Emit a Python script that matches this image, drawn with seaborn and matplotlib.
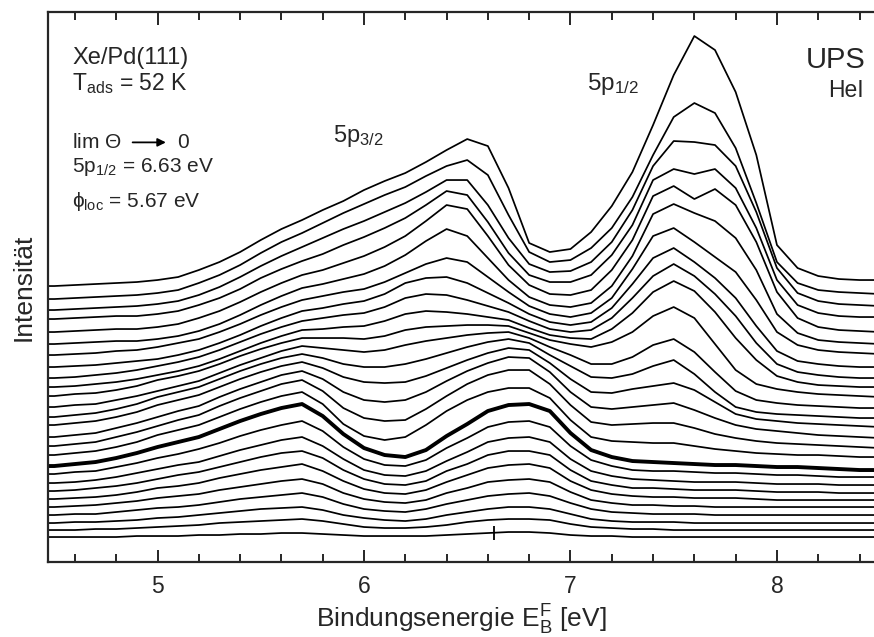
import numpy as np
import matplotlib
matplotlib.use('Agg')
import matplotlib.pyplot as plt
from matplotlib.ticker import MultipleLocator
import seaborn as sns

# binding energy grid (eV)
energy = [4.4, 4.5, 4.6, 4.7, 4.8, 4.9, 5.0, 5.1, 5.2, 5.3, 5.4, 5.5, 5.6, 5.7,
          5.8, 5.9, 6.0, 6.1, 6.2, 6.3, 6.4, 6.5, 6.6, 6.7, 6.8, 6.9, 7.0, 7.1,
          7.2, 7.3, 7.4, 7.5, 7.6, 7.7, 7.8, 7.9, 8.0, 8.1, 8.2, 8.3, 8.4, 8.5]

# spectra (arb. units, waterfall offset included), bottom to top
spec_00 = [25, 25, 25, 25, 25, 26, 26, 26, 27, 27, 28, 28, 29, 29, 28, 27, 26, 26, 26, 26, 27,
           28, 29, 30, 30, 29, 27, 26, 26, 25, 25, 25, 25, 25, 25, 25, 25, 25, 25, 25, 25, 25]
spec_01 = [32, 32, 32, 33, 33, 34, 35, 36, 37, 39, 40, 41, 42, 43, 41, 38, 35, 34, 34, 35, 37,
           40, 42, 43, 43, 42, 38, 35, 34, 33, 33, 32, 32, 32, 32, 32, 32, 32, 32, 32, 32, 32]
spec_02 = [39, 39, 40, 40, 41, 42, 44, 45, 47, 49, 51, 53, 54, 55, 52, 47, 44, 42, 41, 43, 47,
           50, 53, 55, 55, 53, 48, 43, 41, 40, 40, 40, 39, 39, 39, 39, 39, 39, 39, 39, 39, 39]
spec_03 = [47, 47, 48, 48, 50, 52, 54, 55, 57, 60, 63, 65, 67, 69, 65, 58, 53, 51, 50, 53, 58,
           62, 66, 68, 69, 66, 59, 53, 50, 49, 48, 48, 48, 47, 47, 47, 47, 47, 47, 47, 47, 47]
spec_04 = [55, 55, 56, 57, 59, 61, 64, 66, 68, 72, 75, 78, 81, 83, 78, 69, 63, 60, 59, 62, 69,
           74, 80, 82, 83, 80, 70, 62, 59, 57, 57, 56, 56, 55, 55, 55, 55, 55, 55, 55, 55, 55]
spec_05 = [63, 63, 64, 65, 67, 70, 74, 76, 79, 84, 88, 92, 95, 98, 91, 81, 73, 69, 68, 72, 80,
           87, 94, 97, 98, 94, 81, 72, 68, 66, 65, 65, 64, 64, 64, 63, 62, 62, 62, 62, 62, 62]
spec_06 = [71, 71, 72, 74, 76, 79, 83, 87, 90, 95, 100, 105, 109, 111, 104, 92, 83, 78, 77, 81, 91,
           98, 107, 111, 111, 107, 92, 81, 77, 74, 74, 73, 72, 72, 72, 71, 70, 70, 70, 69, 69, 69]
spec_07 = [79, 79, 80, 82, 85, 89, 93, 97, 100, 106, 112, 117, 122, 125, 116, 103, 92, 87, 86, 91, 101,
           110, 120, 124, 125, 120, 103, 91, 86, 83, 82, 81, 80, 80, 80, 79, 78, 78, 78, 77, 77, 77]
spec_08 = [88, 88, 90, 91, 95, 99, 104, 108, 113, 119, 126, 132, 137, 141, 131, 115, 103, 97, 96, 102, 114,
           124, 135, 140, 141, 135, 116, 102, 96, 92, 91, 91, 90, 89, 89, 88, 87, 87, 86, 85, 85, 85]
spec_09 = [96, 96, 98, 100, 104, 109, 115, 120, 125, 133, 141, 148, 154, 158, 146, 128, 114, 107, 105, 112, 126,
           138, 151, 157, 158, 151, 129, 112, 105, 101, 100, 99, 98, 97, 97, 96, 95, 95, 94, 93, 92, 92]
spec_10 = [107, 107, 109, 111, 115, 120, 127, 132, 137, 145, 153, 160, 166, 170, 158, 138, 126, 122, 125, 137, 151,
           162, 170, 174, 174, 164, 142, 125, 121, 120, 119, 119, 116, 113, 111, 109, 108, 107, 107, 106, 105, 105]
spec_11 = [116, 116, 118, 120, 125, 130, 136, 142, 147, 156, 164, 171, 178, 182, 171, 154, 144, 141, 142, 153, 166,
           178, 187, 192, 192, 178, 157, 140, 137, 138, 139, 139, 134, 128, 124, 121, 119, 118, 117, 116, 115, 114]
spec_12 = [125, 125, 127, 129, 134, 139, 145, 151, 156, 165, 173, 180, 187, 191, 183, 170, 162, 160, 162, 170, 181,
           191, 199, 205, 204, 190, 170, 155, 153, 155, 157, 159, 152, 144, 137, 133, 131, 129, 127, 126, 125, 124]
spec_13 = [137, 137, 139, 141, 145, 150, 157, 162, 167, 175, 183, 190, 196, 200, 194, 185, 180, 179, 180, 186, 194,
           202, 209, 214, 212, 199, 183, 170, 169, 173, 176, 179, 172, 160, 148, 143, 141, 139, 138, 137, 136, 135]
spec_14 = [145, 145, 147, 149, 153, 158, 165, 170, 175, 183, 191, 198, 204, 208, 204, 198, 195, 195, 198, 203, 209,
           215, 220, 223, 219, 207, 196, 185, 184, 188, 196, 202, 188, 170, 155, 150, 148, 147, 146, 145, 144, 144]
spec_15 = [155, 155, 157, 158, 162, 166, 171, 176, 181, 189, 197, 204, 211, 216, 214, 212, 210, 212, 217, 221, 224,
           227, 229, 230, 224, 215, 207, 198, 198, 205, 217, 223, 210, 190, 171, 162, 159, 157, 156, 155, 154, 154]
spec_16 = [166, 166, 168, 169, 172, 176, 182, 186, 191, 198, 206, 213, 219, 224, 224, 224, 223, 226, 232, 235, 236,
           237, 237, 236, 229, 222, 218, 215, 220, 230, 246, 255, 244, 218, 192, 178, 173, 170, 168, 167, 166, 165]
spec_17 = [175, 175, 176, 178, 180, 183, 187, 191, 196, 203, 211, 219, 226, 232, 233, 235, 236, 241, 248, 251, 250,
           248, 245, 242, 234, 227, 224, 223, 233, 249, 270, 281, 271, 250, 224, 202, 186, 180, 177, 176, 175, 175]
spec_18 = [184, 184, 185, 187, 189, 192, 196, 200, 205, 212, 220, 228, 235, 241, 244, 247, 249, 255, 264, 268, 267,
           262, 256, 250, 241, 233, 230, 232, 244, 264, 286, 298, 286, 268, 246, 219, 198, 190, 187, 185, 184, 184]
spec_19 = [195, 195, 196, 197, 199, 201, 203, 207, 212, 219, 227, 236, 244, 251, 254, 258, 261, 268, 279, 284, 285,
           279, 269, 259, 248, 240, 237, 240, 254, 278, 304, 314, 300, 284, 264, 236, 211, 201, 198, 196, 195, 195]
spec_20 = [207, 207, 208, 209, 211, 212, 215, 219, 223, 230, 238, 247, 255, 262, 266, 270, 273, 280, 289, 298, 304,
           300, 285, 270, 256, 248, 245, 249, 264, 293, 326, 334, 320, 305, 290, 262, 230, 217, 212, 210, 209, 208]
spec_21 = [218, 218, 219, 220, 221, 221, 223, 226, 231, 238, 247, 257, 266, 274, 278, 283, 288, 296, 307, 321, 333,
           326, 304, 282, 265, 257, 255, 259, 276, 306, 348, 358, 349, 341, 324, 292, 248, 229, 222, 220, 219, 218]
spec_22 = [230, 230, 231, 232, 233, 233, 235, 238, 244, 251, 260, 270, 279, 287, 292, 299, 306, 315, 326, 341, 357,
           353, 326, 297, 277, 268, 267, 272, 292, 322, 366, 376, 363, 373, 357, 320, 270, 244, 235, 232, 231, 230]
spec_23 = [243, 243, 244, 245, 246, 246, 248, 251, 257, 264, 273, 284, 293, 301, 308, 317, 325, 334, 344, 357, 371,
           367, 340, 309, 287, 280, 280, 287, 307, 337, 382, 393, 388, 393, 374, 334, 282, 257, 249, 246, 245, 245]
spec_24 = [252, 252, 253, 254, 255, 256, 258, 261, 267, 275, 285, 296, 306, 315, 324, 333, 341, 350, 359, 370, 382,
           382, 357, 324, 298, 290, 291, 300, 320, 352, 396, 421, 420, 417, 396, 350, 294, 269, 261, 258, 257, 256]
spec_25 = [263, 263, 264, 265, 266, 267, 269, 272, 279, 287, 297, 309, 320, 329, 339, 349, 358, 367, 375, 386, 396,
           402, 387, 347, 310, 300, 302, 314, 334, 365, 407, 445, 459, 449, 414, 359, 300, 279, 272, 270, 269, 268]
spec_26 = [276, 276, 277, 278, 279, 280, 282, 285, 292, 300, 310, 322, 333, 342, 352, 361, 372, 381, 389, 400, 412,
           423, 416, 374, 319, 310, 313, 330, 356, 390, 437, 487, 526, 512, 470, 407, 317, 294, 286, 283, 282, 282]

spectra = [spec_00, spec_01, spec_02, spec_03, spec_04, spec_05, spec_06, spec_07, spec_08,
           spec_09, spec_10, spec_11, spec_12, spec_13, spec_14, spec_15, spec_16, spec_17,
           spec_18, spec_19, spec_20, spec_21, spec_22, spec_23, spec_24, spec_25, spec_26]
highlight = 9          # spectrum drawn bold
marker_energy = 6.63   # 5p1/2 position of the limit

sns.set_style('ticks')
plt.rcParams['font.family'] = ['Liberation Sans', 'DejaVu Sans']
plt.rcParams['mathtext.fontset'] = 'custom'
plt.rcParams['mathtext.rm'] = 'Liberation Sans'
plt.rcParams['mathtext.it'] = 'Liberation Sans'
plt.rcParams['mathtext.sf'] = 'Liberation Sans'

fig = plt.figure(figsize=(8.74, 6.37), dpi=100)
ax = fig.add_axes([0.055, 0.1177, 0.945, 0.8634])

for i, spec in enumerate(spectra):
    sns.lineplot(x=energy, y=spec, ax=ax, color='black',
                 linewidth=2.8 if i == highlight else 1.25)
for ln in ax.lines:
    ln.set_solid_joinstyle('round')

# small mark at the 5p1/2 limit position on the lowest spectrum
base = spectra[0][energy.index(6.6)]
ax.vlines(marker_energy, base - 7, base + 7, color='black', linewidth=1.3)

ax.set_xlim(4.47, 8.47)
ax.set_ylim(0, 550)
ax.set_xticks([5, 6, 7, 8])
ax.xaxis.set_minor_locator(MultipleLocator(0.2))
ax.set_yticks([])
ax.tick_params(axis='x', which='both', direction='in', top=True, bottom=True,
               labelsize=16.5, width=1.4, pad=9)
ax.tick_params(axis='x', which='major', length=9)
ax.tick_params(axis='x', which='minor', length=5.5)
for side in ['left', 'top', 'bottom']:
    ax.spines[side].set_linewidth(1.6)
ax.spines['right'].set_visible(False)

ax.set_xlabel(r'Bindungsenergie E$_\mathrm{B}^\mathrm{F}$ [eV]', fontsize=19, labelpad=4)
ax.set_ylabel('Intensität', fontsize=19, labelpad=9)

# annotations
tf = ax.transAxes
ax.text(0.029, 0.905, 'Xe/Pd(111)', transform=tf, fontsize=17)
ax.text(0.029, 0.858, r'T$_\mathrm{ads}$ = 52 K', transform=tf, fontsize=16.5)
ax.text(0.029, 0.753, r'lim $\Theta$', transform=tf, fontsize=15)
ax.annotate('', xy=(0.146, 0.763), xytext=(0.099, 0.763), xycoords=tf,
            arrowprops=dict(arrowstyle='-|>', color='black', lw=1.3, mutation_scale=12))
ax.text(0.156, 0.753, '0', transform=tf, fontsize=15)
ax.text(0.029, 0.709, r'5p$_\mathrm{1/2}$ = 6.63 eV', transform=tf, fontsize=15)
ax.text(0.029, 0.645, r'$\phi_\mathrm{loc}$ = 5.67 eV', transform=tf, fontsize=15)
ax.text(0.345, 0.764, r'5p$_\mathrm{3/2}$', transform=tf, fontsize=17)
ax.text(0.6525, 0.858, r'5p$_\mathrm{1/2}$', transform=tf, fontsize=17.5)
ax.text(0.99, 0.898, 'UPS', transform=tf, fontsize=21, ha='right')
ax.text(0.987, 0.845, 'HeI', transform=tf, fontsize=16.5, ha='right')

fig.savefig('out.png', dpi=100)
